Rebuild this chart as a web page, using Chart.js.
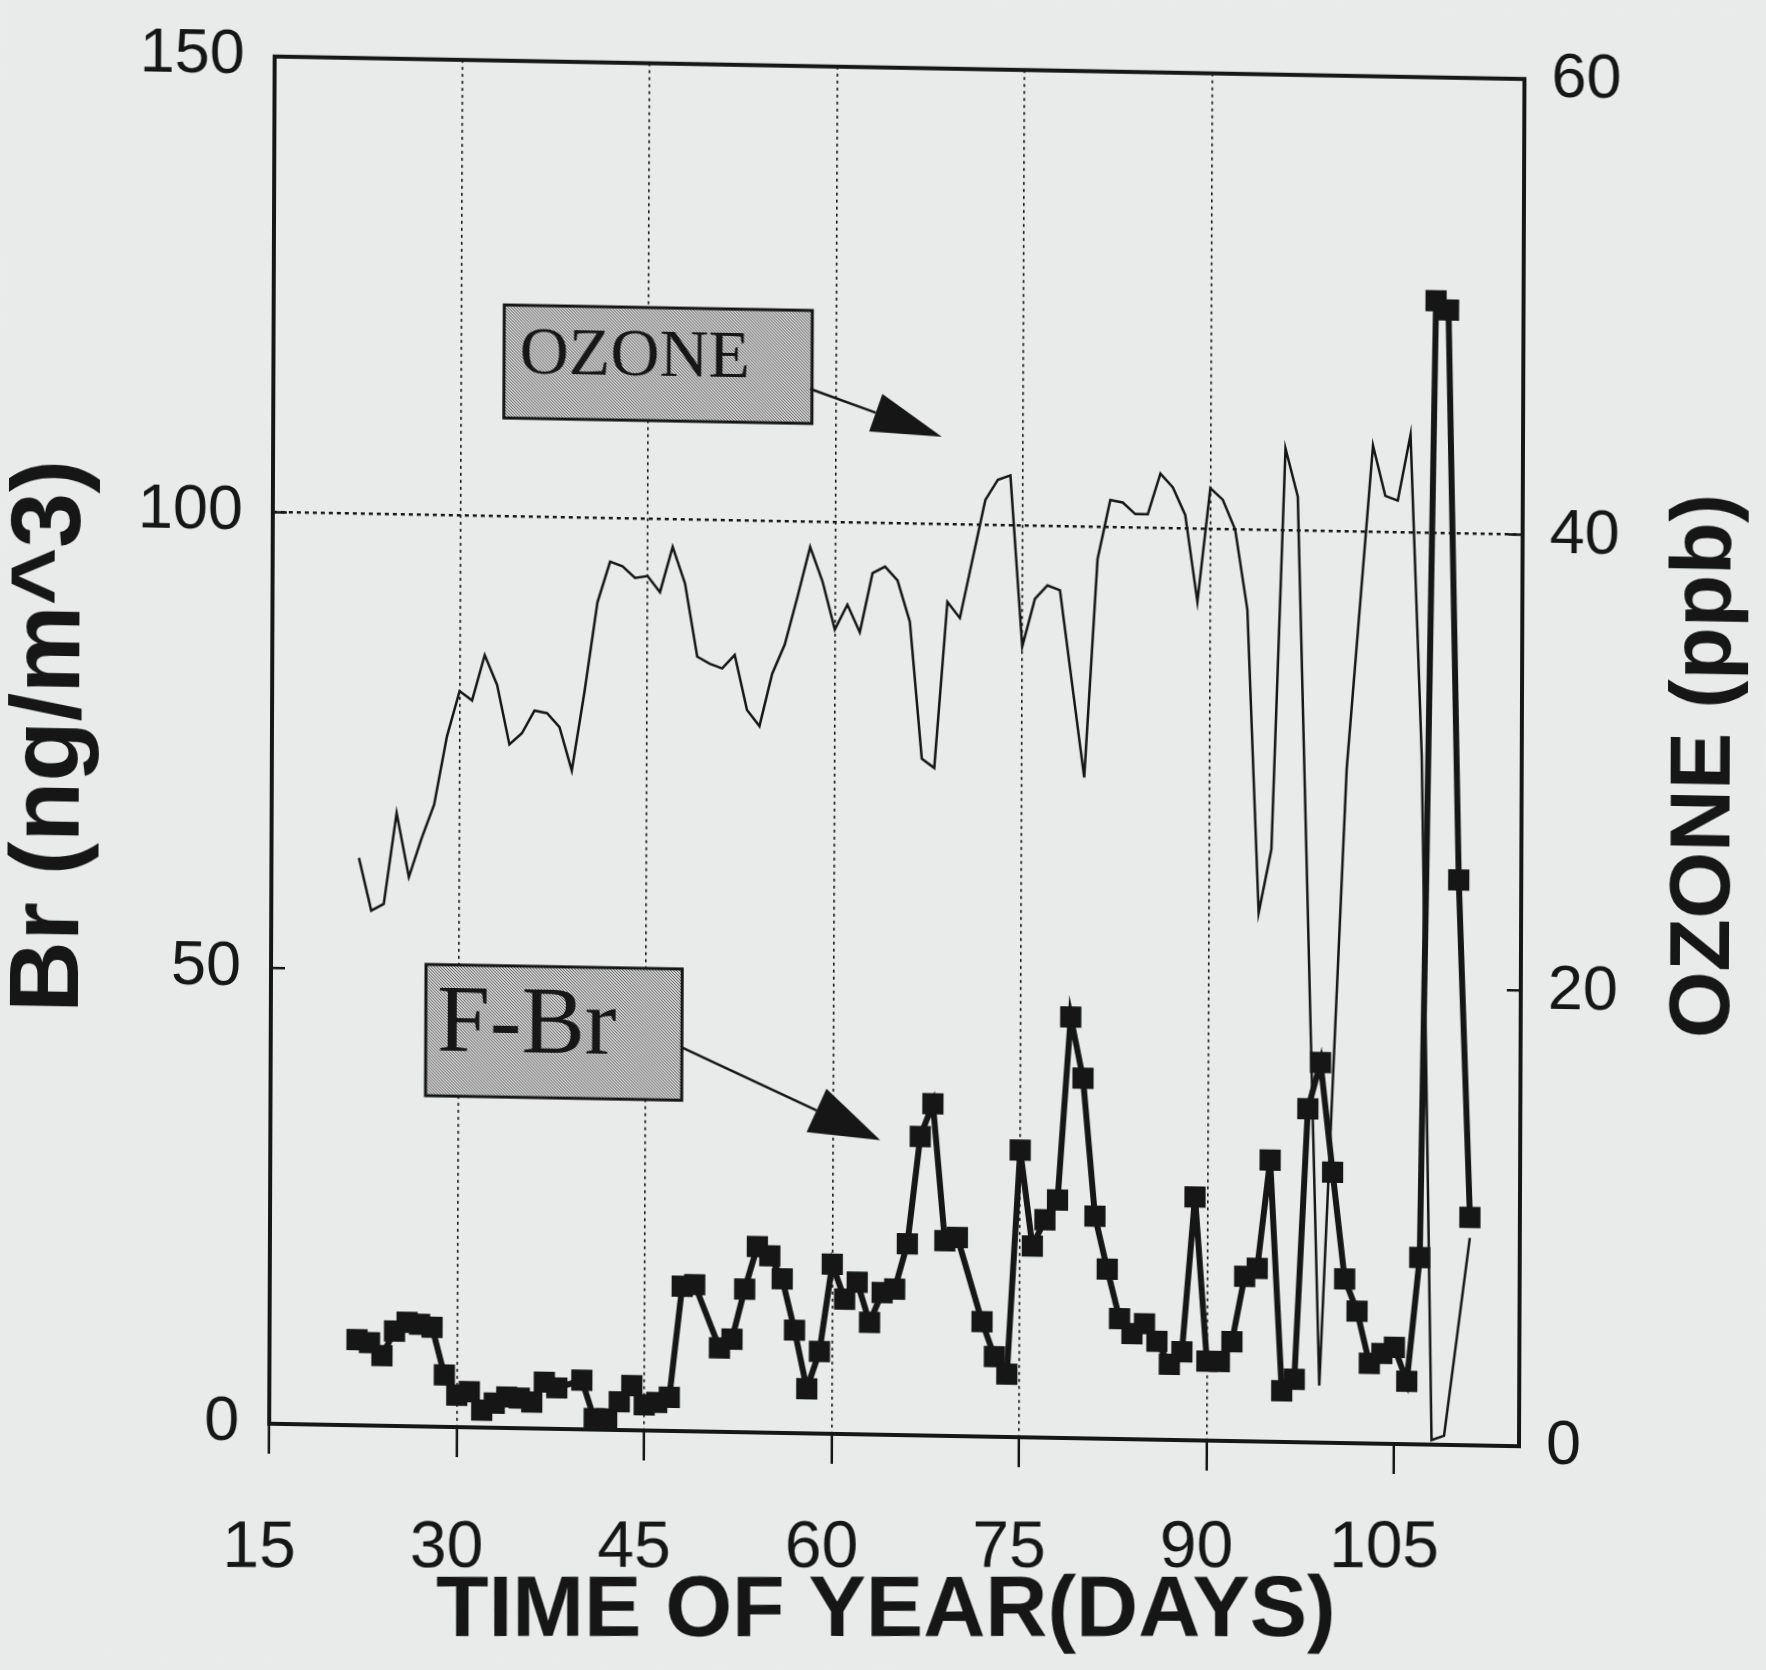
<!DOCTYPE html>
<html>
<head>
<meta charset="utf-8">
<script src="https://cdn.jsdelivr.net/npm/chart.js@4.4.1/dist/chart.umd.min.js"></script>
<style>
  html, body { margin: 0; padding: 0; background: #e9ebea; overflow: hidden; }
  /* the scanned frame is slightly skewed */
  #wrap { width: 1766px; height: 1670px; transform-origin: 898px 745px; transform: matrix(1, 0.018, -0.004, 1, 0, 0); }
</style>
</head>
<body>
<div id="wrap"><canvas id="brOzoneChart"></canvas></div>
<script>
// axis ticks
const xTickValues = [15, 30, 45, 60, 75, 90, 105];
const brTickValues = [0, 50, 100, 150];
const ozoneTickValues = [0, 20, 40, 60];

// F-Br (ng/m^3), left axis
const brDays = [22, 23, 24, 25, 26, 27, 28, 29, 30, 31, 32, 33, 34, 35, 36, 37, 38,
  40, 41, 42, 43, 44, 45, 46, 47, 48, 49,
  51, 52, 53, 54, 55, 56, 57, 58, 59, 60, 61, 62, 63, 64, 65, 66, 67, 68, 69, 70,
  72, 73, 74, 75, 76, 77, 78, 79, 80, 81, 82, 83, 84, 85, 86, 87, 88, 89, 90, 91,
  92, 93, 94, 95, 96, 97, 98, 99, 100, 101, 102, 103, 104, 105, 106, 107, 108, 109, 110, 111];
const brValues = [9.4, 9.1, 7.7, 10.4, 11.4, 11.2, 10.9, 5.7, 3.5, 3.9, 1.9, 2.7, 3.4, 3.3, 2.9, 5.1, 4.5,
  5.4, 1.2, 1.2, 3.1, 4.9, 2.8, 3.1, 3.7, 15.9, 16.1,
  9.2, 10.2, 15.7, 20.4, 19.4, 16.9, 11.3, 4.9, 9.0, 18.6, 14.8, 16.7, 12.3, 15.6, 16.0, 21.0, 32.8, 36.4, 21.4, 21.8,
  12.6, 8.8, 6.9, 31.5, 21.0, 23.9, 26.1, 46.2, 39.5, 24.4, 18.6, 13.2, 11.6, 12.7, 10.8, 8.3, 9.7, 26.7, 8.7, 8.7,
  10.9, 18.1, 19.0, 30.9, 5.6, 6.9, 36.6, 41.7, 29.7, 18.0, 14.5, 8.8, 9.9, 10.6, 6.9, 20.5, 125.5, 124.5, 62, 25];

// ozone (ppb), right axis
const ozoneDays = [22, 23, 24, 25, 26, 27, 28, 29, 30, 31, 32, 33, 34, 35, 36, 37, 38, 39, 40,
  41, 42, 43, 44, 45, 46, 47, 48, 49, 50, 51, 52, 53, 54, 55, 56, 57, 58, 59, 60,
  61, 62, 63, 64, 65, 66, 67, 68, 69, 70, 72, 73, 74, 75, 76, 77, 78,
  80, 81, 82, 83, 84, 85, 86, 87, 88, 89, 90, 91, 92, 93, 94, 95, 96, 97,
  99, 101, 103, 104, 105, 106, 107, 108, 109, 111];
const ozoneValues = [24.9, 22.6, 22.9, 26.9, 24.1, 25.8, 27.3, 30.3, 32.3, 31.9, 33.9, 32.6, 30.0, 30.5, 31.5, 31.4, 30.8, 28.9, 32.4,
  36.3, 38.1, 37.9, 37.4, 37.5, 36.8, 38.8, 37.2, 34.0, 33.7, 33.5, 34.1, 31.7, 31.0, 33.3, 34.6, 36.7, 38.9, 37.4, 35.3,
  36.4, 35.2, 37.8, 38.1, 37.5, 35.7, 29.7, 29.3, 36.6, 35.9, 41.1, 42.0, 42.2, 34.7, 36.8, 37.4, 37.2,
  29.0, 38.6, 41.2, 41.1, 40.6, 40.6, 42.4, 41.8, 40.6, 36.8, 41.8, 41.3, 40.0, 36.5, 23.2, 26.0, 43.6, 41.5,
  2.5, 29.6, 43.8, 41.6, 41.4, 44.3, 30.2, 0.2, 0.4, 9.1];

// shaded label boxes with arrows (data units: day, ng/m^3)
const callouts = [
  { text: 'OZONE', box: [33.45, 123.2, 58.1, 110.8], textAt: [34.7, 115.8], size: 68, from: [57.95, 114.6], to: [68.5, 109.6], head: [70, 20] },
  { text: 'F-Br', box: [27.4, 50.7, 47.9, 36.3], textAt: [28.3, 41.2], size: 95, from: [47.9, 42.1], to: [63.8, 32.3], head: [70, 24] }
];

// small inward tick marks on the value axes
const brInnerTicks = [50, 100];
const ozoneInnerTicks = [20, 40];

const ink = '#161616';
const sans = "'Liberation Sans', Arial, sans-serif";
const serif = "'Liberation Serif', 'Times New Roman', serif";

// same skew as the css on #wrap, used to keep the x labels level
const skew = { b: 0.018, c: -0.004, ox: 898, oy: 745 };

const hatch = (() => {
  const c = document.createElement('canvas');
  c.width = 6; c.height = 6;
  const g = c.getContext('2d');
  g.fillStyle = '#d0d0d0';
  g.fillRect(0, 0, 6, 6);
  g.fillStyle = '#666';
  for (let i = 0; i < 6; i++) {
    g.fillRect(i, i, 1, 1);
    g.fillRect((i + 3) % 6, i, 1, 1);
  }
  return c;
})();

function arrow(ctx, x0, y0, x1, y1, len, half) {
  const a = Math.atan2(y1 - y0, x1 - x0);
  const bx = x1 - len * Math.cos(a), by = y1 - len * Math.sin(a);
  ctx.beginPath();
  ctx.moveTo(x0, y0);
  ctx.lineTo(bx, by);
  ctx.stroke();
  ctx.beginPath();
  ctx.moveTo(x1, y1);
  ctx.lineTo(bx + half * Math.sin(a), by - half * Math.cos(a));
  ctx.lineTo(bx - half * Math.sin(a), by + half * Math.cos(a));
  ctx.closePath();
  ctx.fill();
}

const paperPlugin = {
  id: 'paper',
  beforeDraw(chart) {
    const ctx = chart.ctx;
    ctx.save();
    ctx.fillStyle = '#e9ebea';
    ctx.fillRect(0, 0, chart.width, chart.height);
    ctx.restore();
  }
};

const framePlugin = {
  id: 'frame',
  afterDatasetsDraw(chart) {
    const ctx = chart.ctx, a = chart.chartArea;
    const xs = chart.scales.x, ys = chart.scales.yBr, yo = chart.scales.yOzone;
    ctx.save();
    ctx.strokeStyle = ink;
    ctx.lineWidth = 4;
    ctx.strokeRect(a.left, a.top, a.right - a.left, a.bottom - a.top);

    ctx.lineWidth = 2.5;
    ctx.beginPath();
    brInnerTicks.forEach(v => {
      const y = ys.getPixelForValue(v);
      ctx.moveTo(a.left, y);
      ctx.lineTo(a.left + 14, y);
    });
    ozoneInnerTicks.forEach(v => {
      const y = yo.getPixelForValue(v);
      ctx.moveTo(a.right, y);
      ctx.lineTo(a.right - 14, y);
    });
    ctx.stroke();

    const pattern = ctx.createPattern(hatch, 'repeat');
    callouts.forEach(c => {
      const x0 = xs.getPixelForValue(c.box[0]), y0 = ys.getPixelForValue(c.box[1]);
      const x1 = xs.getPixelForValue(c.box[2]), y1 = ys.getPixelForValue(c.box[3]);
      ctx.fillStyle = pattern;
      ctx.fillRect(x0, y0, x1 - x0, y1 - y0);
      ctx.lineWidth = 3;
      ctx.strokeStyle = ink;
      ctx.strokeRect(x0, y0, x1 - x0, y1 - y0);
      ctx.fillStyle = ink;
      ctx.font = c.size + 'px ' + serif;
      ctx.textAlign = 'left';
      ctx.textBaseline = 'alphabetic';
      ctx.fillText(c.text, xs.getPixelForValue(c.textAt[0]), ys.getPixelForValue(c.textAt[1]));
      ctx.lineWidth = 2.5;
      arrow(ctx,
        xs.getPixelForValue(c.from[0]), ys.getPixelForValue(c.from[1]),
        xs.getPixelForValue(c.to[0]), ys.getPixelForValue(c.to[1]),
        c.head[0], c.head[1]);
    });

    // right axis title reads bottom-to-top
    ctx.translate(a.right + 184, (a.top + a.bottom) / 2);
    ctx.rotate(-Math.PI / 2);
    ctx.font = 'bold 86px ' + sans;
    ctx.textAlign = 'center';
    ctx.textBaseline = 'middle';
    ctx.fillStyle = ink;
    ctx.fillText('OZONE (ppb)', 0, 0);
    ctx.restore();
  },
  afterDraw(chart) {
    // x tick labels and x title sit level on the page although the frame is skewed
    const ctx = chart.ctx, a = chart.chartArea, xs = chart.scales.x;
    const det = 1 - skew.b * skew.c;
    ctx.save();
    ctx.translate(skew.ox, skew.oy);
    ctx.transform(1 / det, -skew.b / det, -skew.c / det, 1 / det, 0, 0);
    ctx.translate(-skew.ox, -skew.oy);
    ctx.fillStyle = ink;
    ctx.textAlign = 'center';
    ctx.textBaseline = 'alphabetic';
    ctx.font = '66px ' + sans;
    xTickValues.forEach(v => {
      const tx = xs.getPixelForValue(v) + skew.c * (a.bottom - skew.oy);
      ctx.fillText(String(v), tx - 10, a.bottom + 132);
    });
    ctx.font = 'bold 86px ' + sans;
    ctx.fillText('TIME OF YEAR(DAYS)', (a.left + a.right) / 2 - 11, a.bottom + 201);
    ctx.restore();
  }
};

new Chart(document.getElementById('brOzoneChart').getContext('2d'), {
  type: 'line',
  data: {
    datasets: [{
      label: 'F-Br',
      data: brDays.map((d, i) => ({ x: d, y: brValues[i] })),
      yAxisID: 'yBr',
      borderColor: ink,
      borderWidth: 6,
      backgroundColor: ink,
      pointStyle: 'rect',
      pointRadius: 15,
      pointBorderWidth: 0,
      pointBackgroundColor: ink,
      tension: 0
    }, {
      label: 'OZONE',
      data: ozoneDays.map((d, i) => ({ x: d, y: ozoneValues[i] })),
      yAxisID: 'yOzone',
      borderColor: ink,
      borderWidth: 2.5,
      pointRadius: 0,
      tension: 0
    }]
  },
  options: {
    responsive: true,
    maintainAspectRatio: false,
    devicePixelRatio: 1,
    animation: false,
    layout: { padding: { top: 57, left: 0, right: 0, bottom: 0 } },
    plugins: { legend: { display: false }, tooltip: { enabled: false } },
    scales: {
      x: {
        type: 'linear',
        min: 15,
        max: 115,
        afterBuildTicks: s => { s.ticks = xTickValues.map(v => ({ value: v })); },
        afterFit: s => { s.height = 235; },
        border: { display: false, dash: [3, 4] },
        grid: {
          color: ctx => (ctx.tick && ctx.tick.value >= 30 && ctx.tick.value <= 90) ? ink : 'rgba(0,0,0,0)',
          lineWidth: 1.6,
          tickColor: ink,
          tickWidth: 2.5,
          tickLength: 30,
          tickBorderDash: []
        },
        ticks: { display: false },
        title: { display: false }
      },
      yBr: {
        type: 'linear',
        position: 'left',
        min: 0,
        max: 150,
        afterBuildTicks: s => { s.ticks = brTickValues.map(v => ({ value: v })); },
        afterFit: s => { s.width = 272; },
        border: { display: false, dash: [4, 4] },
        grid: {
          color: ctx => (ctx.tick && ctx.tick.value === 100) ? ink : 'rgba(0,0,0,0)',
          lineWidth: 2.5,
          drawTicks: false
        },
        ticks: { color: ink, font: { family: sans, size: 63 }, padding: 30 },
        title: {
          display: true,
          text: 'Br (ng/m^3)',
          color: ink,
          font: { family: sans, size: 99, weight: 'bold', lineHeight: 1.05 },
          padding: 0
        }
      },
      yOzone: {
        type: 'linear',
        position: 'right',
        min: 0,
        max: 60,
        afterBuildTicks: s => { s.ticks = ozoneTickValues.map(v => ({ value: v })); },
        afterFit: s => { s.width = 244; },
        border: { display: false },
        grid: { display: false, drawOnChartArea: false },
        ticks: { color: ink, font: { family: sans, size: 63 }, padding: 19 }
      }
    }
  },
  plugins: [paperPlugin, framePlugin]
});
</script>
</body>
</html>
